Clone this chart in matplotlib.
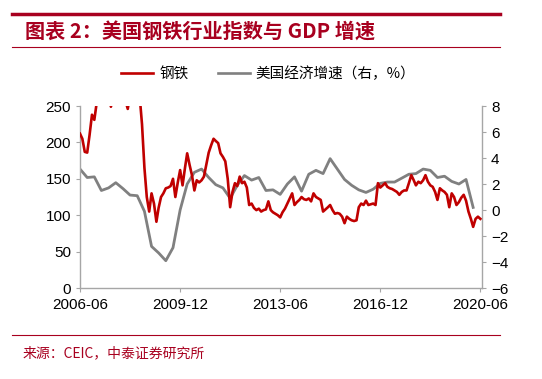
import numpy as np
import pandas as pd
import matplotlib
matplotlib.use('Agg')
import matplotlib.pyplot as plt
from matplotlib.lines import Line2D

plt.rcParams['font.family'] = ['Liberation Sans', 'Noto Sans CJK SC', 'DejaVu Sans']
cjk = ['Noto Sans CJK SC', 'DejaVu Sans']

# monthly steel index, 2006-06 .. 2020-06 (values above 250 are clipped in the chart)
steel = [212, 205, 187, 186, 210, 238, 231, 255, 275, 285,
         280, 270, 265, 249, 262, 270, 280, 285, 272, 258,
         246, 265, 295, 305, 295, 265, 225, 165, 125, 105,
         130, 116, 91, 110, 125, 130, 137, 138, 140, 150,
         125, 145, 162, 141, 165, 185, 169, 155, 134, 148,
         145, 148, 153, 170, 186, 196, 205, 202, 199, 185,
         180, 174, 150, 111, 132, 144, 140, 153, 144, 146,
         138, 114, 116, 110, 107, 109, 105, 107, 108, 119,
         107, 104, 102, 100, 97, 104, 109, 116, 123, 130,
         114, 118, 121, 125, 122, 121, 123, 119, 130, 125,
         123, 121, 105, 108, 111, 114, 107, 102, 103, 102,
         98, 89, 98, 95, 93, 92, 93, 111, 116, 114,
         120, 114, 115, 116, 114, 144, 138, 141, 144, 139,
         137, 136, 134, 132, 128, 132, 134, 134, 144, 155,
         148, 141, 146, 144, 148, 155, 146, 141, 139, 132,
         121, 137, 134, 132, 128, 111, 130, 125, 114, 118,
         124, 128, 120, 105, 95, 84, 95, 98, 95]
steel_dates = pd.date_range('2006-06-01', periods=len(steel), freq='MS')

# quarterly US real GDP growth yoy (%), 2006Q2 .. 2020Q1
gdp = [3.15, 2.5, 2.55, 1.5, 1.7, 2.1, 1.65, 1.15, 1.1, -0.1,
       -2.8, -3.3, -3.9, -2.9, 0.0, 2.0, 2.9, 3.15, 2.5, 1.95,
       1.7, 0.9, 1.9, 2.65, 2.3, 2.5, 1.5, 1.55, 1.2, 2.0,
       2.55, 1.45, 2.75, 3.05, 2.8, 3.95, 3.15, 2.35, 1.9, 1.55,
       1.35, 1.6, 2.05, 2.15, 2.15, 2.45, 2.75, 2.8, 3.15, 3.05,
       2.5, 2.6, 2.2, 2.0, 2.35, 0.2]
gdp_dates = pd.date_range('2006-06-01', periods=len(gdp), freq='3MS')

xticks = ['2006-06', '2009-12', '2013-06', '2016-12', '2020-06']

red = '#C00000'
gray = '#808080'
spine_c = '#A6A6A6'
title_c = '#A8001F'

fig = plt.figure(figsize=(5.42, 3.79), dpi=100)
ax = fig.add_axes([0.1476, 0.2401, 0.7417, 0.4802])
ax2 = ax.twinx()

ax.plot(steel_dates, steel, color=red, lw=1.9, zorder=3, solid_joinstyle='round')
ax2.plot(gdp_dates, gdp, color=gray, lw=2.0, zorder=2, solid_joinstyle='round')
ax.set_zorder(ax2.get_zorder() + 1)
ax.patch.set_visible(False)

ax.set_ylim(0, 250)
ax.set_yticks(range(0, 251, 50))
ax2.set_ylim(-6, 8)
ax2.set_yticks(range(-6, 9, 2))
ax.set_xlim(pd.Timestamp('2006-06-01'), pd.Timestamp('2020-06-22'))
ax.set_xticks([pd.Timestamp(t + '-01') for t in xticks])
ax.set_xticklabels(xticks)

for a in (ax, ax2):
    for s in a.spines.values():
        s.set_color(spine_c)
        s.set_linewidth(1.0)
    a.spines['top'].set_visible(False)
    a.tick_params(colors='black', labelsize=11, length=3, width=0.8)
    a.tick_params(axis='both', color=spine_c)
ax2.spines['left'].set_visible(False)
ax.spines['right'].set_visible(False)
ax2.spines['bottom'].set_visible(False)
ax.tick_params(axis='x', pad=4)

# legend
handles = [Line2D([], [], color=red, lw=1.9), Line2D([], [], color=gray, lw=1.9)]
fig.legend(handles, ['钢铁', '美国经济增速（右，%）'], loc='center', ncol=2,
           bbox_to_anchor=(0.495, 0.805), frameon=False, handlelength=2.2,
           handletextpad=0.4, columnspacing=2.0, prop={'family': cjk, 'size': 10.5})

# header / footer decorations
fig.add_artist(Line2D([12 / 542, 500 / 542], [1 - 14 / 379] * 2, color=title_c, lw=2.5))
fig.add_artist(Line2D([12 / 542, 500 / 542], [1 - 47 / 379] * 2, color=title_c, lw=0.8))
fig.add_artist(Line2D([12 / 542, 500 / 542], [1 - 335 / 379] * 2, color=title_c, lw=0.8))
fig.text(25 / 542, 1 - 32 / 379, '图表 2：美国钢铁行业指数与 GDP 增速', color=title_c,
         fontsize=14.5, fontweight='bold', family=cjk, va='center', ha='left')
fig.text(23 / 542, 1 - 353 / 379, '来源：CEIC，中泰证券研究所', color='#A8001F',
         fontsize=10, family=cjk, va='center', ha='left')

fig.savefig('out.png', dpi=100)
